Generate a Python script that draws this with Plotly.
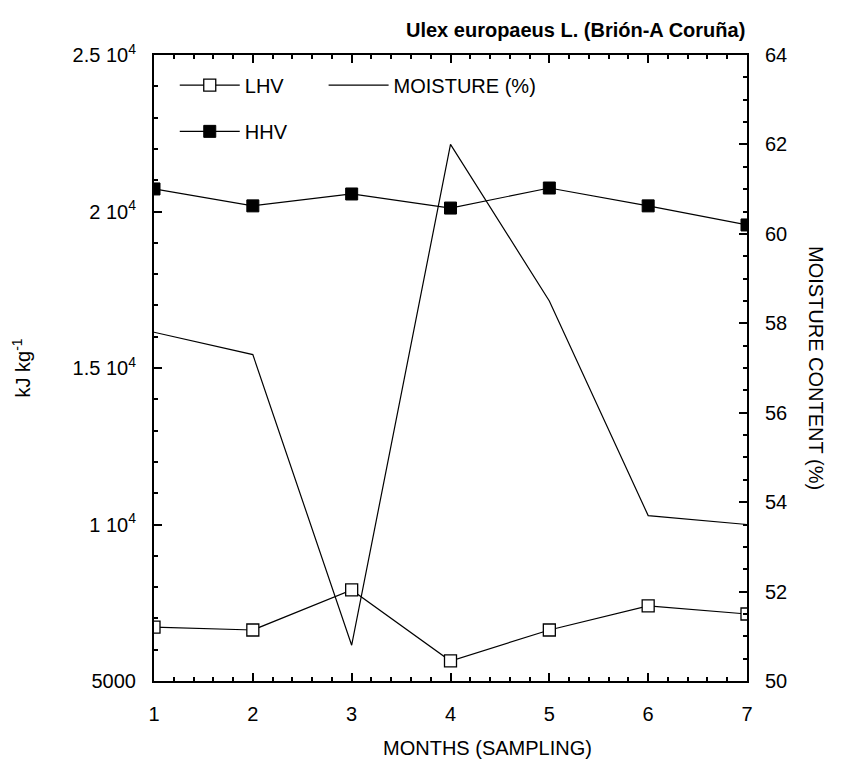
import plotly.graph_objects as go

months = [1, 2, 3, 4, 5, 6, 7]
lhv = [6720, 6630, 7910, 5640, 6630, 7400, 7140]
hhv = [20720, 20180, 20560, 20110, 20750, 20180, 19570]
moisture = [57.8, 57.3, 50.8, 62.0, 58.5, 53.7, 53.5]

y_tickvals = [5000, 10000, 15000, 20000, 25000]
y_ticktext = ["5000", "1 10<sup>4</sup>", "1.5 10<sup>4</sup>", "2 10<sup>4</sup>", "2.5 10<sup>4</sup>"]

font = "Liberation Sans, Arial, Helvetica, sans-serif"
FS = 20

fig = go.Figure()
fig.add_trace(go.Scatter(x=months, y=moisture, yaxis="y2", mode="lines", name="MOISTURE (%)",
                         line=dict(color="black", width=1.2), legend="legend2"))
fig.add_trace(go.Scatter(x=months, y=lhv, mode="lines+markers", name="LHV",
                         line=dict(color="black", width=1.2),
                         marker=dict(symbol="square", size=12, color="white", line=dict(color="black", width=1.3))))
fig.add_trace(go.Scatter(x=months, y=hhv, mode="lines+markers", name="HHV", legend="legend3",
                         line=dict(color="black", width=1.2),
                         marker=dict(symbol="square", size=12, color="black", line=dict(color="black", width=1))))

minor_common = dict(ticks="inside", ticklen=4, tickcolor="black", tickwidth=1.5)
axis_common = dict(showgrid=False, zeroline=False, linecolor="black", linewidth=2,
                   ticks="inside", tickcolor="black", tickwidth=1.5, ticklen=8,
                   tickfont=dict(family=font, size=FS, color="black"))

leg_common = dict(xanchor="left", yanchor="middle", bgcolor="rgba(0,0,0,0)",
                  itemwidth=60, font=dict(family=font, size=FS))

fig.update_layout(
    width=851, height=761,
    margin=dict(l=154, r=104, t=55, b=80),
    paper_bgcolor="white", plot_bgcolor="white",
    font=dict(family=font, color="black"),
    xaxis=dict(range=[1, 7], dtick=1, minor=dict(dtick=0.2, **minor_common),
               ticklabelstandoff=14,
               **axis_common),
    xaxis2=dict(range=[1, 7], dtick=1, overlaying="x", side="top", showticklabels=False,
                minor=dict(dtick=0.2, **minor_common), **axis_common),
    yaxis=dict(range=[5000, 25000], tickvals=y_tickvals, ticktext=y_ticktext,
               ticklabelstandoff=12,
               minor=dict(dtick=1000, **minor_common),
               **axis_common),
    yaxis2=dict(range=[50, 64], dtick=2, overlaying="y", side="right",
                ticklabelstandoff=12,
                minor=dict(dtick=0.5, **minor_common),
                **axis_common),
    legend=dict(x=0.035, y=0.952, **leg_common),
    legend3=dict(x=0.035, y=0.878, **leg_common),
    legend2=dict(x=0.286, y=0.952, **leg_common),
    annotations=[
        dict(text="<b>Ulex europaeus L. (Brión-A Coruña)</b>", xref="paper", yref="paper",
             x=1.0, y=1.0, xanchor="right", yanchor="bottom", yshift=12, showarrow=False,
             font=dict(family=font, size=FS)),
        dict(text="MONTHS (SAMPLING)", xref="paper", yref="paper", x=0.563, y=0,
             yshift=-67, xanchor="center", yanchor="middle", showarrow=False,
             font=dict(family=font, size=FS)),
        dict(text="kJ kg<sup>-1</sup>", xref="paper", yref="paper", x=0, y=0.5,
             xshift=-148, textangle=-90, showarrow=False, font=dict(family=font, size=FS)),
        dict(text="MOISTURE CONTENT (%)", xref="paper", yref="paper", x=1, y=0.5,
             xshift=82, textangle=90, showarrow=False, font=dict(family=font, size=FS)),
    ],
)

fig.add_trace(go.Scatter(x=[1, 7], y=[None, None], xaxis="x2", showlegend=False, hoverinfo="skip"))

fig.write_html("out.html")
